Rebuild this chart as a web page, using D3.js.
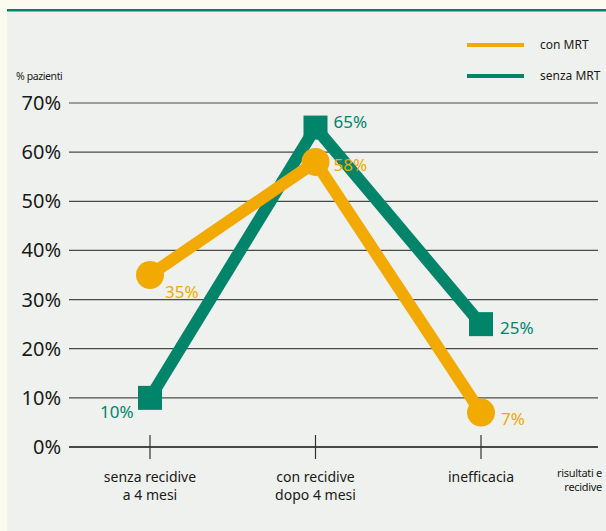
<!DOCTYPE html>
<html>
<head>
<meta charset="utf-8">
<script src="https://cdn.jsdelivr.net/npm/d3@7"></script>
<style>
body { margin: 0; background: #fff; }
svg { display: block; font-family: "Noto Sans", sans-serif; }
</style>
</head>
<body>
<svg id="chart" width="606" height="531"></svg>
<script>
const categories = ['senza recidive|a 4 mesi', 'con recidive|dopo 4 mesi', 'inefficacia'];
const conMRT = [35, 58, 7];
const senzaMRT = [10, 65, 25];
const yTicks = [0, 10, 20, 30, 40, 50, 60, 70];
const seriesNames = ['con MRT', 'senza MRT'];

const orange = '#f2a900';
const green = '#00856a';

const svg = d3.select('#chart');

// background panel
svg.append('rect').attr('x', 0).attr('y', 0).attr('width', 606).attr('height', 531).attr('fill', '#fdfbf0');
svg.append('rect').attr('x', 7).attr('y', 10).attr('width', 599).attr('height', 521).attr('fill', '#eff1ee');
svg.append('rect').attr('x', 7).attr('y', 9).attr('width', 599).attr('height', 2.5).attr('fill', green);

const x = d3.scalePoint().domain(d3.range(categories.length)).range([150, 481]);
const y = d3.scaleLinear().domain([0, 70]).range([447, 103]);

// grid + y labels
const grid = svg.append('g');
yTicks.forEach(t => {
	grid.append('line')
		.attr('x1', 69).attr('x2', 598)
		.attr('y1', y(t)).attr('y2', y(t))
		.attr('stroke', t === 0 ? '#111' : '#4a4a4a')
		.attr('stroke-width', t === 0 ? 1.4 : 1.2);
	grid.append('text')
		.attr('x', 61).attr('y', y(t) + 7)
		.attr('text-anchor', 'end')
		.attr('font-size', 20)
		.attr('fill', '#1a1a1a')
		.text(t + '%');
});

svg.append('text').attr('x', 16).attr('y', 80).attr('font-size', 10.5)
	.attr('fill', '#1a1a1a').attr('letter-spacing', -0.4).text('% pazienti');

// x ticks + labels
categories.forEach((c, i) => {
	svg.append('line')
		.attr('x1', x(i)).attr('x2', x(i))
		.attr('y1', y(0) - 12).attr('y2', y(0) + 12)
		.attr('stroke', '#333').attr('stroke-width', 1.2);
	const t = svg.append('text').attr('text-anchor', 'middle').attr('font-size', 14).attr('fill', '#1a1a1a');
	c.split('|').forEach((line, j) => {
		t.append('tspan').attr('x', x(i)).attr('y', 482 + j * 18).text(line);
	});
});
const axisName = svg.append('text').attr('text-anchor', 'end').attr('font-size', 11).attr('fill', '#1a1a1a').attr('letter-spacing', -0.3);
['risultati e', 'recidive'].forEach((line, j) => {
	axisName.append('tspan').attr('x', 602).attr('y', 477 + j * 14).text(line);
});

// series
const line = d3.line().x((d, i) => x(i)).y(d => y(d));

svg.append('path').datum(senzaMRT).attr('d', line)
	.attr('fill', 'none').attr('stroke', green).attr('stroke-width', 12).attr('stroke-linejoin', 'miter');
svg.selectAll('.sq').data(senzaMRT).enter().append('rect')
	.attr('x', (d, i) => x(i) - 12).attr('y', d => y(d) - 12)
	.attr('width', 24).attr('height', 24).attr('fill', green);

svg.append('path').datum(conMRT).attr('d', line)
	.attr('fill', 'none').attr('stroke', orange).attr('stroke-width', 12).attr('stroke-linejoin', 'round');
svg.selectAll('.dot').data(conMRT).enter().append('circle')
	.attr('cx', (d, i) => x(i)).attr('cy', d => y(d)).attr('r', 14).attr('fill', orange);

// value labels
const conOff = [[15, 23], [18, 9], [20, 12]];
const senzaOff = [[-50, 20], [18, 0], [19, 10]];
conMRT.forEach((d, i) => {
	svg.append('text').attr('x', x(i) + conOff[i][0]).attr('y', y(d) + conOff[i][1])
		.attr('font-size', 17).attr('fill', orange).text(d + '%');
});
senzaMRT.forEach((d, i) => {
	svg.append('text').attr('x', x(i) + senzaOff[i][0]).attr('y', y(d) + senzaOff[i][1])
		.attr('font-size', 17).attr('fill', green).text(d + '%');
});

// legend
seriesNames.forEach((n, i) => {
	const ly = 45 + i * 31;
	svg.append('line').attr('x1', 467).attr('x2', 524).attr('y1', ly).attr('y2', ly)
		.attr('stroke', i === 0 ? orange : green).attr('stroke-width', 4);
	svg.append('text').attr('x', 540).attr('y', ly + 4).attr('font-size', 12)
		.attr('fill', '#1a1a1a').text(n);
});
</script>
</body>
</html>
